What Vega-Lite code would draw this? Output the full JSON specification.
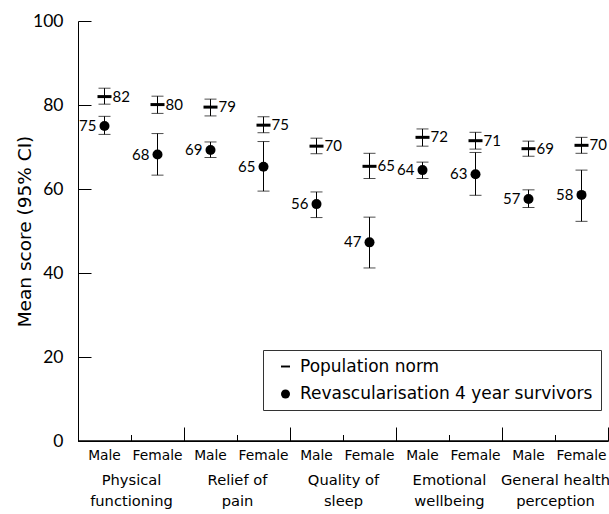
{
  "$schema": "https://vega.github.io/schema/vega-lite/v6.json",
  "width": 530,
  "height": 420,
  "autosize": "none",
  "padding": {"left": 78, "top": 21, "right": 1, "bottom": 73},
  "config": {
    "view": {"stroke": null},
    "font": "DejaVu Sans",
    "axis": {"domainColor": "black", "tickColor": "black", "labelColor": "black", "titleColor": "black", "grid": false, "labelFont": "DejaVu Sans", "titleFont": "DejaVu Sans"}
  },
  "data": {"values": [
    {"item": "Physical functioning|Male", "series": "Population norm", "mean": 82.0, "lo": 80.2, "hi": 84.0, "label": 82},
    {"item": "Physical functioning|Male", "series": "Revascularisation 4 year survivors", "mean": 75.0, "lo": 73.0, "hi": 77.3, "label": 75},
    {"item": "Physical functioning|Female", "series": "Population norm", "mean": 80.1, "lo": 78.0, "hi": 82.1, "label": 80},
    {"item": "Physical functioning|Female", "series": "Revascularisation 4 year survivors", "mean": 68.2, "lo": 63.3, "hi": 73.2, "label": 68},
    {"item": "Relief of pain|Male", "series": "Population norm", "mean": 79.5, "lo": 77.4, "hi": 81.4, "label": 79},
    {"item": "Relief of pain|Male", "series": "Revascularisation 4 year survivors", "mean": 69.3, "lo": 67.5, "hi": 71.2, "label": 69},
    {"item": "Relief of pain|Female", "series": "Population norm", "mean": 75.2, "lo": 73.4, "hi": 77.2, "label": 75},
    {"item": "Relief of pain|Female", "series": "Revascularisation 4 year survivors", "mean": 65.3, "lo": 59.5, "hi": 71.3, "label": 65},
    {"item": "Quality of sleep|Male", "series": "Population norm", "mean": 70.2, "lo": 68.4, "hi": 72.1, "label": 70},
    {"item": "Quality of sleep|Male", "series": "Revascularisation 4 year survivors", "mean": 56.4, "lo": 53.2, "hi": 59.3, "label": 56},
    {"item": "Quality of sleep|Female", "series": "Population norm", "mean": 65.4, "lo": 62.5, "hi": 68.5, "label": 65},
    {"item": "Quality of sleep|Female", "series": "Revascularisation 4 year survivors", "mean": 47.3, "lo": 41.2, "hi": 53.3, "label": 47},
    {"item": "Emotional wellbeing|Male", "series": "Population norm", "mean": 72.3, "lo": 70.2, "hi": 74.3, "label": 72},
    {"item": "Emotional wellbeing|Male", "series": "Revascularisation 4 year survivors", "mean": 64.5, "lo": 62.5, "hi": 66.4, "label": 64},
    {"item": "Emotional wellbeing|Female", "series": "Population norm", "mean": 71.5, "lo": 69.5, "hi": 73.5, "label": 71},
    {"item": "Emotional wellbeing|Female", "series": "Revascularisation 4 year survivors", "mean": 63.5, "lo": 58.5, "hi": 68.7, "label": 63},
    {"item": "General health perception|Male", "series": "Population norm", "mean": 69.6, "lo": 67.8, "hi": 71.4, "label": 69},
    {"item": "General health perception|Male", "series": "Revascularisation 4 year survivors", "mean": 57.6, "lo": 55.6, "hi": 59.8, "label": 57},
    {"item": "General health perception|Female", "series": "Population norm", "mean": 70.4, "lo": 68.5, "hi": 72.3, "label": 70},
    {"item": "General health perception|Female", "series": "Revascularisation 4 year survivors", "mean": 58.6, "lo": 52.3, "hi": 64.5, "label": 58}
  ]},
  "layer": [
    {
      "layer": [
        {
          "mark": {"type": "rule", "color": "black", "strokeWidth": 1},
          "encoding": {
            "x": {"field": "item", "type": "nominal", "sort": null, "scale": {"type": "band", "paddingInner": 0, "paddingOuter": 0},
              "axis": {"orient": "bottom", "title": null, "ticks": false, "domain": false, "labelExpr": "indexof(datum.value, 'Female') >= 0 ? 'Female' : 'Male'", "labelFontSize": 13.8, "labelPadding": 7, "labelAngle": 0, "labelBaseline": "top", "labelOverlap": false}},
            "y": {"field": "lo", "type": "quantitative", "title": "Mean score (95% CI)", "scale": {"domain": [0, 100], "nice": false},
              "axis": {"values": [0, 20, 40, 60, 80, 100], "tickSize": -13, "labelPadding": 28, "labelFont": "Lato", "labelFontSize": 17.5, "titleFontSize": 18.5, "titleFontWeight": "normal", "titlePadding": -2}},
            "y2": {"field": "hi"}
          }
        },
        {
          "mark": {"type": "tick", "color": "black", "size": 12, "thickness": 1},
          "encoding": {
            "x": {"field": "item", "type": "nominal", "sort": null},
            "y": {"field": "lo", "type": "quantitative"}
          }
        },
        {
          "mark": {"type": "tick", "color": "black", "size": 12, "thickness": 1},
          "encoding": {
            "x": {"field": "item", "type": "nominal", "sort": null},
            "y": {"field": "hi", "type": "quantitative"}
          }
        },
        {
          "mark": {"type": "point", "filled": true, "opacity": 1, "color": "black", "strokeWidth": 0},
          "encoding": {
            "x": {"field": "item", "type": "nominal", "sort": null},
            "y": {"field": "mean", "type": "quantitative"},
            "shape": {"field": "series", "type": "nominal",
              "scale": {"domain": ["Population norm", "Revascularisation 4 year survivors"], "range": ["M-1,-0.214H1V0.214H-1Z", "circle"]},
              "legend": {"title": null, "orient": "none", "legendX": 185, "legendY": 329, "strokeColor": "#333", "padding": 8, "symbolOffset": 6, "labelOffset": 6, "labelFontSize": 17, "labelFont": "DejaVu Sans", "labelColor": "black", "rowPadding": 9.5, "symbolSize": 81, "symbolFillColor": "black", "symbolStrokeWidth": 0, "labelLimit": 400,
                "encode": {"symbols": {"update": {"shape": {"signal": "datum.value === 'Population norm' ? 'M-1,-0.33H1V0.33H-1Z' : 'circle'"}}}}}},
            "size": {"condition": {"test": "datum.series === 'Population norm'", "value": 196}, "value": 100}
          }
        },
        {
          "transform": [{"filter": "datum.series === 'Population norm'"}],
          "mark": {"type": "text", "align": "left", "baseline": "middle", "dx": 8, "font": "Lato", "fontSize": 15, "color": "black"},
          "encoding": {
            "x": {"field": "item", "type": "nominal", "sort": null},
            "y": {"field": "mean", "type": "quantitative"},
            "text": {"field": "label", "type": "quantitative", "format": "d"}
          }
        },
        {
          "transform": [{"filter": "datum.series !== 'Population norm'"}],
          "mark": {"type": "text", "align": "right", "baseline": "middle", "dx": -8, "font": "Lato", "fontSize": 15, "color": "black"},
          "encoding": {
            "x": {"field": "item", "type": "nominal", "sort": null},
            "y": {"field": "mean", "type": "quantitative"},
            "text": {"field": "label", "type": "quantitative", "format": "d"}
          }
        }
      ]
    },
    {
      "data": {"values": [{"a": 0}]},
      "mark": {"type": "rule", "color": "black", "strokeWidth": 1},
      "encoding": {
        "x": {"datum": 0, "type": "quantitative", "scale": {"domain": [0, 10], "nice": false, "zero": false},
          "axis": {"orient": "bottom", "values": [2, 4, 6, 8, 10], "domain": true, "title": null, "tickSize": -14, "labels": false}},
        "x2": {"datum": 10},
        "y": {"datum": 0, "type": "quantitative"}
      }
    },
    {
      "data": {"values": [{"a": 0}]},
      "mark": {"type": "rule", "color": "black", "strokeWidth": 1},
      "encoding": {
        "x": {"datum": 0, "type": "quantitative", "scale": {"domain": [0, 10], "nice": false, "zero": false},
          "axis": {"orient": "bottom", "values": [1, 3, 5, 7, 9], "domain": false, "title": null, "tickSize": -6.5,
            "labelExpr": "datum.value == 1 ? ['Physical', 'functioning'] : datum.value == 3 ? ['Relief of', 'pain'] : datum.value == 5 ? ['Quality of', 'sleep'] : datum.value == 7 ? ['Emotional', 'wellbeing'] : ['General health', 'perception']",
            "labelFontSize": 14.7, "labelPadding": 38, "labelLineHeight": 21, "labelBaseline": "top", "labelAlign": "center", "labelOverlap": false, "labelFlush": false, "labelBound": false}},
        "x2": {"datum": 10},
        "y": {"datum": 0, "type": "quantitative"}
      }
    }
  ],
  "resolve": {"scale": {"x": "independent"}, "axis": {"x": "independent"}}
}
